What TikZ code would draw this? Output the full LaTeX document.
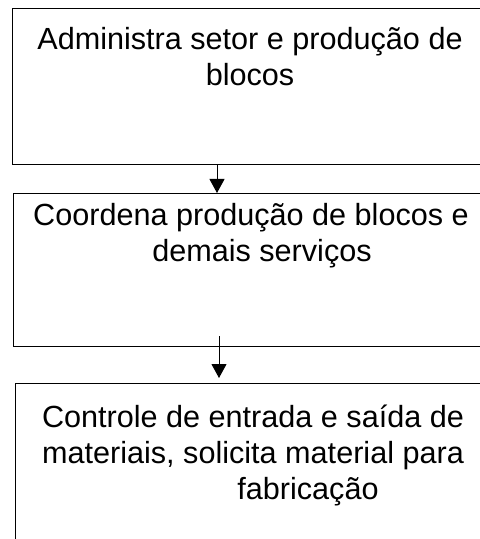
\documentclass[tikz,border=0pt]{standalone}
\usepackage{fontspec}
\setmainfont{Liberation Sans}
\usetikzlibrary{arrows.meta, positioning}

\begin{document}
\begin{tikzpicture}[
    x=0.5pt, y=-0.5pt,
    stagebox/.style={draw, line width=0.7pt, minimum width=260pt, inner sep=0pt, anchor=north west},
    stagetext/.style={align=center, inner sep=0pt, xshift=119pt, font=\fontsize{15.3}{18}\selectfont},
    flow/.style={-{Triangle[length=7pt, width=7.5pt]}, line width=0.5pt}
  ]
  \useasboundingbox (0,0) rectangle (480,539);

  % boxes
  \node[stagebox, minimum height=78pt] (admin) at (12,8) {};
  \node[stagebox, minimum height=76.5pt] (coord) at (13,193) {};
  \node[stagebox, minimum height=90pt] (ctrl) at (15,383) {};

  % texts
  \node[stagetext, below=9.5pt of admin.north west] (admintxt)
    {Administra setor e produção de\\ blocos};
  \node[stagetext, below=5pt of coord.north west] (coordtxt)
    {Coordena produção de blocos e\\ \hspace*{11pt}demais serviços};
  \node[stagetext, below=11pt of ctrl.north west] (ctrltxt)
    {Controle de entrada e saída de\\ materiais, solicita material para\\ \hspace*{55pt}fabricação};

  % arrows
  \draw[flow] ([xshift=102.5pt]admin.south west) -- ([xshift=102pt]coord.north west);
  \draw[flow] ([xshift=103pt, yshift=5.5pt]coord.south west) -- ([xshift=102pt, yshift=2.5pt]ctrl.north west);
\end{tikzpicture}
\end{document}
